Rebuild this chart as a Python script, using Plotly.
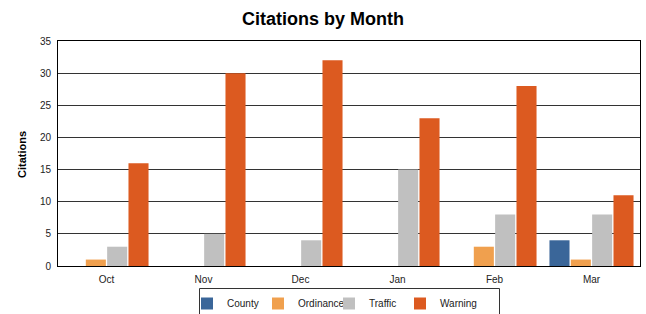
import plotly.graph_objects as go

months = ["Oct", "Nov", "Dec", "Jan", "Feb", "Mar"]
county = [0, 0, 0, 0, 0, 4]
ordinance = [1, 0, 0, 0, 3, 1]
traffic = [3, 5, 4, 15, 8, 8]
warning = [16, 30, 32, 23, 28, 11]

series = [
    ("County", county, "#3A6699"),
    ("Ordinance", ordinance, "#F0A04E"),
    ("Traffic", traffic, "#C0C0C0"),
    ("Warning", warning, "#DC5A20"),
]

fig = go.Figure()
for name, vals, color in series:
    fig.add_trace(go.Bar(x=months, y=vals, name=name, marker=dict(color=color, line=dict(width=0))))
# invisible spacer legend entry (scatter, so it does not take a bar slot)
fig.add_trace(go.Scatter(x=[None], y=[None], name=" ", mode="markers",
                         marker=dict(color="rgba(0,0,0,0)"), hoverinfo="skip"))

font = "Liberation Sans, Arial, sans-serif"
L, R, T, B = 58, 6, 41, 48
W, H = 646, 314
pw, ph = W - L - R, H - T - B

def px_x(p):
    return (p - L) / pw

def px_y(p):
    return (H - B - p) / ph

fig.update_layout(
    width=W, height=H,
    margin=dict(l=L, r=R, t=T, b=B, autoexpand=False),
    paper_bgcolor="white", plot_bgcolor="white",
    barmode="group", bargap=0.12, bargroupgap=0.06,
    font=dict(family=font, size=10, color="#222"),
    title=dict(text="<b>Citations by Month</b>", x=0.5, xanchor="center", y=1 - 12 / H, yanchor="top",
               font=dict(family=font, size=18, color="black")),
    xaxis=dict(showline=True, linecolor="black", linewidth=1, mirror=True, ticks="",
               automargin=False, ticklabelstandoff=4,
               tickfont=dict(size=10, color="#222")),
    yaxis=dict(range=[0, 35], dtick=5, showline=True, linecolor="black", linewidth=1, mirror=True,
               gridcolor="#333", gridwidth=1, zeroline=False, ticks="",
               automargin=False, ticklabelstandoff=4,
               tickfont=dict(size=10, color="#222")),
    legend=dict(orientation="h", x=px_x(187), xanchor="left", y=px_y(289), yanchor="top",
                borderwidth=0, itemwidth=30, entrywidth=26, entrywidthmode="pixels",
                font=dict(size=10, color="#222"), traceorder="normal", bgcolor="rgba(0,0,0,0)"),
    showlegend=True,
    annotations=[dict(text="<b>Citations</b>", textangle=-90, xref="paper", yref="paper",
                      x=px_x(22), y=px_y(155), xanchor="center", yanchor="middle",
                      showarrow=False, font=dict(size=11, color="black"))],
    shapes=[dict(type="rect", xref="paper", yref="paper",
                 x0=px_x(199.5), x1=px_x(499.5), y0=px_y(288.5), y1=px_y(330),
                 line=dict(color="#333", width=1), fillcolor="rgba(0,0,0,0)")],
)

fig.write_html("out.html", config={"displayModeBar": False},
               post_script="document.body.style.margin='0px';")
